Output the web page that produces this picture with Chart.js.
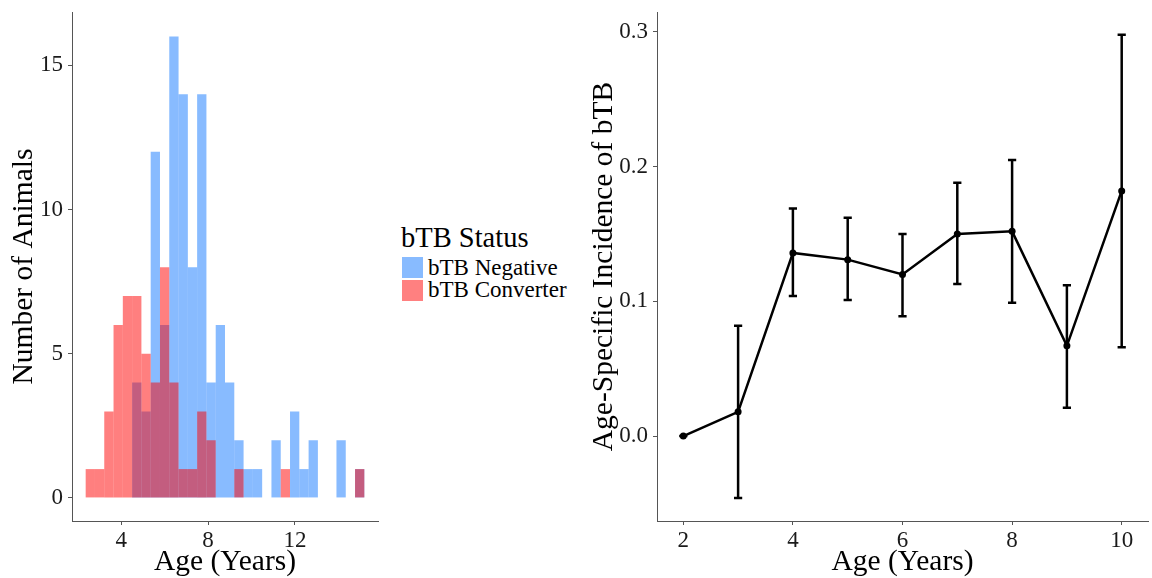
<!DOCTYPE html>
<html>
<head>
<meta charset="utf-8">
<script src="https://cdn.jsdelivr.net/npm/chart.js@4/dist/chart.umd.min.js"></script>
<style>
body{margin:0;background:#fff;width:1152px;height:578px;position:relative;overflow:hidden;font-family:"Liberation Serif",serif;}
#hist{position:absolute;left:0;top:0}
#inc{position:absolute;left:580px;top:0}
.lg{position:absolute;line-height:1;white-space:nowrap;color:#000}
.sw{position:absolute;width:21px;height:21px}
</style>
</head>
<body>
<canvas id="hist" width="385" height="578"></canvas>
<canvas id="inc" width="572" height="578"></canvas>
<div class="lg" style="left:401px;top:224px;font-size:28.5px">bTB Status</div>
<div class="sw" style="left:402px;top:257px;background:#88bbff"></div>
<div class="sw" style="left:402px;top:280px;background:#ff8080"></div>
<div class="lg" style="left:428px;top:256px;font-size:23px">bTB Negative</div>
<div class="lg" style="left:428px;top:278px;font-size:23px">bTB Converter</div>
<script>
// histogram: 30 bins of age
const binStart = 2.36, binWidth = 0.428;
const negCounts  = [0,0,0,0,0,4,3,12,6,16,14,8,14,4,6,4,2,1,1,0,2,0,3,1,2,0,0,2,0,1];
const convCounts = [1,1,3,6,7,7,5,4,8,4,1,1,3,2,0,0,1,0,0,0,0,1,0,0,0,0,0,0,0,1];
const histXTicks = [4, 8, 12];
const histYTicks = [0, 5, 10, 15];

// age-specific incidence with error bars
const ages      = [2, 3, 4, 5, 6, 7, 8, 9, 10];
const incidence = [0, 0.018, 0.136, 0.131, 0.120, 0.150, 0.152, 0.067, 0.182];
const lower     = [0, -0.046, 0.104, 0.101, 0.089, 0.113, 0.099, 0.021, 0.066];
const upper     = [0, 0.082, 0.169, 0.162, 0.150, 0.188, 0.205, 0.112, 0.298];
const incXTicks = [2, 4, 6, 8, 10];
const incYTicks = [0, 0.1, 0.2, 0.3];

const FONT = 'Liberation Serif';
const tickFont = {family:FONT, size:23};
const titleFont = {family:FONT, size:29.5};

function axis(extra){
  return Object.assign({
    grid:{drawOnChartArea:false, drawTicks:true, tickLength:4, tickColor:'#555', tickWidth:1, offset:false},
    border:{display:true, color:'#555', width:1}
  }, extra);
}
function setTicks(list){ return s => { s.ticks = list.map(v => ({value:v})); }; }
function fixX(h){ return s => { s.height = h; s.paddingLeft = 0; s.paddingRight = 0; }; }
function fixY(w){ return s => { s.width = w; s.paddingTop = 0; s.paddingBottom = 0; }; }

const centers = negCounts.map((_, i) => binStart + binWidth * (i + 0.5));

new Chart(document.getElementById('hist'), {
  type:'bar',
  data:{datasets:[
    {label:'bTB Converter', data:centers.map((x,i)=>({x, y:convCounts[i]})), backgroundColor:'rgba(255,0,0,0.5)', borderWidth:0, order:0},
    {label:'bTB Negative', data:centers.map((x,i)=>({x, y:negCounts[i]})), backgroundColor:'rgba(17,119,255,0.5)', borderWidth:0, order:1}
  ]},
  options:{
    responsive:false, animation:false,
    layout:{padding:{top:12, right:7, left:0, bottom:0}},
    datasets:{bar:{barPercentage:1, categoryPercentage:1, grouped:false, inflateAmount:0}},
    plugins:{legend:{display:false}, tooltip:{enabled:false}},
    scales:{
      x:axis({type:'linear', min:1.73, max:15.83, offset:false,
        afterBuildTicks:setTicks(histXTicks), afterFit:fixX(57),
        ticks:{font:tickFont, color:'#1a1a1a', padding:2, maxRotation:0},
        title:{display:true, text:'Age (Years)', font:titleFont, color:'#000', padding:{top:0, bottom:-2}}}),
      y:axis({min:-0.8, max:16.85,
        afterBuildTicks:setTicks(histYTicks), afterFit:fixY(72),
        ticks:{font:tickFont, color:'#1a1a1a', padding:5},
        title:{display:true, text:'Number of Animals', font:titleFont, color:'#000', padding:{top:7, bottom:0}}})
    }
  }
});

const errorBars = {
  id:'errorBars',
  afterDatasetsDraw(chart){
    const {ctx, scales:{x, y}} = chart;
    ctx.save();
    ctx.strokeStyle = '#000';
    ctx.lineWidth = 2.5;
    ages.forEach((a, i) => {
      const px = x.getPixelForValue(a);
      const cl = x.getPixelForValue(a - 0.075), cr = x.getPixelForValue(a + 0.075);
      const lo = y.getPixelForValue(lower[i]), hi = y.getPixelForValue(upper[i]);
      ctx.beginPath();
      ctx.moveTo(px, lo); ctx.lineTo(px, hi);
      ctx.moveTo(cl, lo); ctx.lineTo(cr, lo);
      ctx.moveTo(cl, hi); ctx.lineTo(cr, hi);
      ctx.stroke();
    });
    ctx.restore();
  }
};

new Chart(document.getElementById('inc'), {
  type:'line',
  data:{datasets:[{
    data:ages.map((a,i)=>({x:a, y:incidence[i]})),
    borderColor:'#000', borderWidth:2.5, pointRadius:3.5,
    pointBackgroundColor:'#000', pointBorderWidth:0, tension:0
  }]},
  options:{
    responsive:false, animation:false,
    layout:{padding:{top:12, right:0, left:0, bottom:0}},
    plugins:{legend:{display:false}, tooltip:{enabled:false}},
    scales:{
      x:axis({type:'linear', min:1.52, max:10.48,
        afterBuildTicks:setTicks(incXTicks), afterFit:fixX(57),
        ticks:{font:tickFont, color:'#1a1a1a', padding:2, maxRotation:0},
        title:{display:true, text:'Age (Years)', font:titleFont, color:'#000', padding:{top:0, bottom:-2}}}),
      y:axis({min:-0.063, max:0.3148,
        afterBuildTicks:setTicks(incYTicks), afterFit:fixY(77),
        ticks:{font:tickFont, color:'#1a1a1a', padding:5, callback:v => v.toFixed(1)},
        title:{display:true, text:'Age-Specific Incidence of bTB', font:titleFont, color:'#000', padding:{top:7, bottom:0}}})
    }
  },
  plugins:[errorBars]
});
</script>
</body>
</html>
